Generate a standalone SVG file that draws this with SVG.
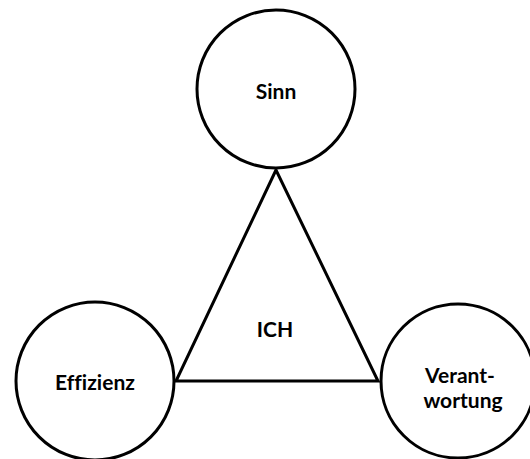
<svg xmlns="http://www.w3.org/2000/svg" width="530" height="459" viewBox="0 0 530 459">
<style>
.node{fill:#fff;stroke:#000;stroke-width:3}
.lbl{font-family:Lato,"Open Sans","Liberation Sans",sans-serif;font-weight:bold;font-size:21px;fill:#000;text-anchor:middle;font-variant-ligatures:none}
.conn{fill:none;stroke:#000;stroke-width:3;stroke-linejoin:miter}
</style>
<rect width="530" height="459" fill="#fff"/>
<g id="connectors">
<polygon class="conn" points="276,170 176,381 378,381"/>
</g>
<g id="ich">
<text class="lbl" x="275" y="337">ICH</text>
</g>
<g id="sinn">
<circle class="node" cx="276" cy="89" r="79"/>
<text class="lbl" x="276" y="99">Sinn</text>
</g>
<g id="effizienz">
<circle class="node" cx="95" cy="381" r="79"/>
<text class="lbl" x="95" y="390">Effizienz</text>
</g>
<g id="verantwortung">
<circle class="node" cx="458" cy="381" r="77"/>
<text class="lbl" x="460" y="383">Verant-</text>
<text class="lbl" x="463" y="408">wortung</text>
</g>
</svg>
